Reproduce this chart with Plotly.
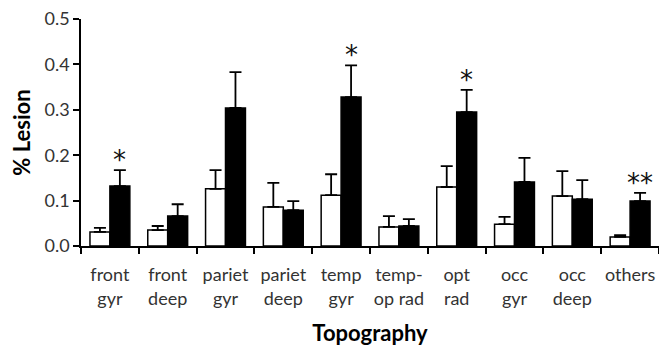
import plotly.graph_objects as go

categories = ["front<br>gyr", "front<br>deep", "pariet<br>gyr", "pariet<br>deep", "temp<br>gyr",
              "temp-<br>op rad", "opt<br>rad", "occ<br>gyr", "occ<br>deep", "others"]
white_vals = [0.031, 0.035, 0.126, 0.086, 0.112, 0.042, 0.130, 0.048, 0.110, 0.020]
white_err = [0.009, 0.009, 0.041, 0.053, 0.046, 0.024, 0.046, 0.016, 0.055, 0.004]
black_vals = [0.132, 0.066, 0.304, 0.079, 0.328, 0.044, 0.295, 0.141, 0.103, 0.099]
black_err = [0.035, 0.026, 0.079, 0.020, 0.070, 0.015, 0.049, 0.053, 0.042, 0.018]
signif = ["*", "", "", "", "*", "", "*", "", "", "**"]
y_ticks = [0.0, 0.1, 0.2, 0.3, 0.4, 0.5]

FONT = "Lato"

fig = go.Figure()
fig.add_trace(go.Bar(
    x=categories, y=white_vals, name="white",
    marker=dict(color="white", line=dict(color="black", width=1.5)),
    error_y=dict(type="data", array=white_err, arrayminus=[0] * len(white_err), symmetric=False,
                 color="black", thickness=1.8, width=6),
))
fig.add_trace(go.Bar(
    x=categories, y=black_vals, name="black",
    marker=dict(color="black", line=dict(color="black", width=1.5)),
    error_y=dict(type="data", array=black_err, arrayminus=[0] * len(black_err), symmetric=False,
                 color="black", thickness=1.8, width=6),
))

for c, v, e, s in zip(categories, black_vals, black_err, signif):
    if s:
        fig.add_annotation(x=c, y=v + e, text=s, showarrow=False, xshift=10, yshift=-7,
                           yanchor="bottom", font=dict(family="DejaVu Sans", size=26, color="#111"))

fig.update_layout(
    width=659, height=352,
    margin=dict(l=81, r=0, t=19, b=106),
    plot_bgcolor="white", paper_bgcolor="white",
    barmode="group", bargap=0.31, bargroupgap=0,
    showlegend=False,
    font=dict(family=FONT, size=18, color="#222"),
)
fig.update_xaxes(
    showline=True, linecolor="black", linewidth=1.5,
    ticks="outside", tickson="boundaries", ticklen=6, tickcolor="black", tickwidth=1.5,
    ticklabelstandoff=12, tickangle=0,
    title=dict(text="<b>Topography</b>", font=dict(family=FONT, size=22, color="black"), standoff=18),
    tickfont=dict(family=FONT, size=18, color="#333"),
)
fig.update_yaxes(
    range=[0, 0.5], tickvals=y_ticks, tickformat=".1f",
    showline=True, linecolor="black", linewidth=1.5, showgrid=False, zeroline=False,
    ticks="outside", ticklen=6, tickcolor="black", tickwidth=1.5,
    title=dict(text="<b>% Lesion</b>", font=dict(family=FONT, size=22, color="black"), standoff=8),
    tickfont=dict(family=FONT, size=18, color="#333"),
)

fig.write_html("out.html")
